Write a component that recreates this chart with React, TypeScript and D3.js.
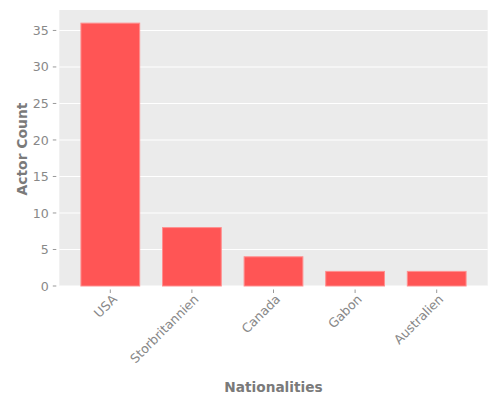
import React from "react";
import * as d3 from "d3";

const categories = ["USA", "Storbritannien", "Canada", "Gabon", "Australien"];
const counts = [36, 8, 4, 2, 2];
const yTicks = [0, 5, 10, 15, 20, 25, 30, 35];

const W = 500;
const H = 400;
const M = { left: 59.3, right: 12.3, top: 10, bottom: 114 };
const FONT = "DejaVu Sans, sans-serif";

export default function App() {
  const x0 = M.left;
  const x1 = W - M.right;
  const y0 = H - M.bottom;
  const y1 = M.top;
  const x = d3.scaleLinear().domain([0.375, categories.length + 0.625]).range([x0, x1]);
  const y = d3.scaleLinear().domain([0, 36 * 1.05]).range([y0, y1]);
  const bw = x(1.72) - x(1);

  return (
    <svg width={W} height={H} style={{ position: "absolute", left: 0, top: 0 }}>
      <rect x={0} y={0} width={W} height={H} fill="#fff" />
      <rect x={x0} y={y1} width={x1 - x0} height={y0 - y1} fill="#EBEBEB" />
      {yTicks.map((t) => (
        <line key={t} x1={x0} x2={x1} y1={y(t)} y2={y(t)} stroke="#fff" strokeWidth={1.1} />
      ))}
      {categories.map((c, i) => (
        <rect
          key={c}
          x={x(i + 1) - bw / 2}
          y={y(counts[i])}
          width={bw}
          height={y(0) - y(counts[i])}
          fill="#FF5555"
          stroke="#FF8F8F"
          strokeWidth={1}
        />
      ))}
      {yTicks.map((t) => (
        <g key={t}>
          <line x1={x0 - 6.5} x2={x0 - 3} y1={y(t)} y2={y(t)} stroke="#999" strokeWidth={1} />
          <text
            x={x0 - 10.5}
            y={y(t)}
            dy="0.36em"
            textAnchor="end"
            fontFamily={FONT}
            fontSize={12.6}
            fill="#888"
          >
            {t}
          </text>
        </g>
      ))}
      {categories.map((c, i) => (
        <g key={c}>
          <line x1={x(i + 1)} x2={x(i + 1)} y1={y0 + 3.5} y2={y0 + 7} stroke="#999" strokeWidth={1} />
          <text
            transform={`translate(${x(i + 1) + 7.5},${y0 + 14}) rotate(-45)`}
            textAnchor="end"
            fontFamily={FONT}
            fontSize={12.6}
            fill="#888"
          >
            {c}
          </text>
        </g>
      ))}
      <text
        x={(x0 + x1) / 2}
        y={392}
        textAnchor="middle"
        fontFamily={FONT}
        fontSize={13.7}
        fontWeight="bold"
        fill="#7a7a7a"
      >
        Nationalities
      </text>
      <text
        transform={`translate(26.5,${(y0 + y1) / 2 + 1}) rotate(-90)`}
        textAnchor="middle"
        fontFamily={FONT}
        fontSize={13.9}
        fontWeight="bold"
        fill="#7a7a7a"
      >
        Actor Count
      </text>
    </svg>
  );
}
